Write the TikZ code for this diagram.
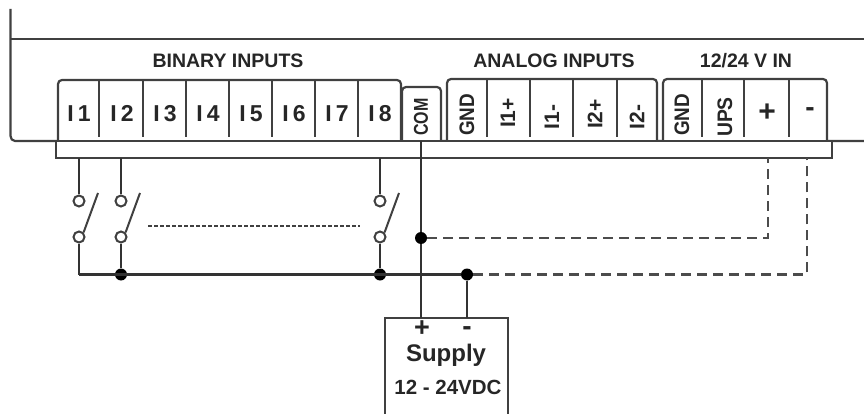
\documentclass[tikz,border=0pt]{standalone}
\usepackage{fontspec}
\setmainfont{Liberation Sans}
\usetikzlibrary{calc}
\tikzset{
  wire/.style={line width=2.3pt,color=black!80},
  thinwire/.style={line width=2pt,color=black!75},
  dashwire/.style={line width=2.4pt,color=black!70,dash pattern=on 10pt off 6pt},
  shell/.style={line width=2.2pt,color=black!75},
  contact/.style={circle,draw=black!75,line width=2pt,fill=white,inner sep=0pt,minimum size=11pt},
  junction/.style={circle,fill=black,inner sep=0pt,minimum size=12pt},
  header/.style={font=\bfseries\fontsize{19.5}{19.5}\selectfont,inner sep=0pt,color=black!85},
  pin/.style={font=\bfseries\fontsize{#1}{#1}\selectfont,inner sep=0pt,color=black!85},
  vpin/.style={font=\bfseries\fontsize{#1}{#1}\selectfont,inner sep=0pt,rotate=90,color=black!85},
  supply/.style={font=\bfseries\fontsize{#1}{#1}\selectfont,inner sep=0pt,color=black!85},
}
\begin{document}
\begin{tikzpicture}[x=1pt,y=-1pt]
  \useasboundingbox (0,0) rectangle (864,414);
  % housing
  \draw[shell] (10.5,9) -- (10.5,136) to[out=-90,in=180] (15,141) -- (864,141);
  \draw[shell] (10.5,39) -- (864,39);
  % terminal groups
  \draw[shell,fill=white,rounded corners=4pt] (58,141) -- (58,80) -- (401,80) -- (401,141);
  \draw[shell,fill=white,rounded corners=4pt] (402,141) -- (402,87) -- (441,87) -- (441,141);
  \draw[shell,fill=white,rounded corners=4pt] (447,141) -- (447,79) -- (657,79) -- (657,141);
  \draw[shell,fill=white,rounded corners=4pt] (663,141) -- (663,79) -- (827,79) -- (827,141);
  \foreach \x in {99,143,186,229,272,315,358,487,530,573,617,702,744,789}
    \draw[thinwire] (\x,80) -- (\x,137);
  \draw[shell,fill=white] (56,141) rectangle (832,158);
  % labels
  \node[header] (binary) at (228,61) {BINARY INPUTS};
  \node[header] (analog) at (554,61) {ANALOG INPUTS};
  \node[header] (power) at (746,61) {12/24 V IN};
  \foreach \i/\x in {1/79,2/122,3/165,4/208,5/251,6/294,7/337,8/380}
    \node[pin=23,anchor=base] (i\i) at (\x,122) {I\hspace{4pt}\i};
  \node[vpin=20] (com) at (421,117) {\scalebox{0.8}[1]{COM}};
  \node[vpin=21] (agnd) at (467,115) {\scalebox{0.9}[1]{GND}};
  \node[vpin=21] (ione) at (508,113) {I1+};
  \node[vpin=21] (ioneb) at (552,117) {I1-};
  \node[vpin=21] (itwo) at (595,114) {I2+};
  \node[vpin=21] (itwob) at (637,117) {I2-};
  \node[vpin=21] (pgnd) at (682,115) {\scalebox{0.9}[1]{GND}};
  \node[vpin=21] (ups) at (725,117) {\scalebox{0.92}[1]{UPS}};
  \node[pin=30] (plus) at (767,113) {+};
  \node[pin=28] (minus) at (810,112) {-};
  % switches
  \coordinate (strip) at (0,158);
  \foreach \n/\x in {a/79,b/121,c/380} {
    \node[contact] (top\n) at (\x,201) {};
    \node[contact] (bot\n) at (\x,237) {};
    \draw[wire] (top\n) -- (strip -| top\n);
    \draw[thinwire] (bot\n.north east) -- ($(top\n)+(19,-8)$);
  }
  \draw[thinwire,dash pattern=on 3.5pt off 2.5pt] (148,226) -- (360,226);
  % bus and supply
  \node[junction] (busb) at (121,274.5) {};
  \node[junction] (busc) at (380,274.5) {};
  \node[junction] (busm) at (467,274.5) {};
  \node[junction] (jcom) at (421,238) {};
  \draw[shell] (385,414) -- (385,318) -- (508,318) -- (508,414);
  \coordinate (supplus) at (421,318);
  \coordinate (supminus) at (467,318);
  \draw[wire] (421,141) -- (jcom) -- (supplus);
  \draw[wire] (busm) -- (supminus);
  \draw[wire] (topa |- busb) -- (busm);
  \draw[wire] (bota) -- (topa |- busb);
  \draw[wire] (botb) -- (busb);
  \draw[wire] (botc) -- (busc);
  % dashed returns
  \coordinate (rplus) at (768,158);
  \coordinate (rminus) at (807,158);
  \draw[dashwire] (jcom) -- (jcom -| rplus) -- (rplus);
  \draw[dashwire] (busm) -- (busm -| rminus) -- (rminus);
  \node[supply=27] (sp) at (422,329) {+};
  \node[supply=28] (sm) at (467,331) {-};
  \node[supply=24] (suptext) at (446,355) {Supply};
  \node[supply=20.5] (supvolt) at (448,387) {12 - 24VDC};
\end{tikzpicture}
\end{document}
